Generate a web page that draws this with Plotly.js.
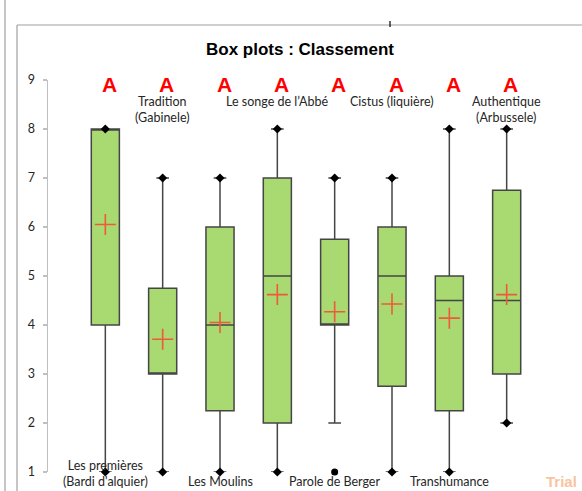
<!DOCTYPE html>
<html>
<head>
<meta charset="utf-8">
<script src="https://cdn.plot.ly/plotly-3.0.1.min.js"></script>
<style>html,body{margin:0;padding:0;background:#fff;}#chart{width:582px;height:491px;}</style>
</head>
<body>
<div id="chart"></div>
<script>
// ---- data ----
const categories = ["Les premières<br>(Bardi d'alquier)", "Tradition<br>(Gabinele)", "Les Moulins", "Le songe de l’Abbé", "Parole de Berger", "Cistus (liquière)", "Transhumance", "Authentique<br>(Arbussele)"];
const groups = ["A", "A", "A", "A", "A", "A", "A", "A"];
const minValues = [1, 1, 1, 1, 1, 1, 1, 2];
const lowerFence = [1, 1, 1, 1, 2, 1, 1, 2];
const q1Values = [4, 3, 2.25, 2, 4, 2.75, 2.25, 3];
const medianValues = [8, 3, 4, 5, 4, 5, 4.5, 4.5];
const q3Values = [8, 4.75, 6, 7, 5.75, 6, 5, 6.75];
const maxValues = [8, 7, 7, 8, 7, 7, 8, 8];
const meanValues = [6.05, 3.71, 4.05, 4.62, 4.27, 4.43, 4.14, 4.62];

const positions = categories.map((c, i) => i + 1);
const labelFont = "Lato, 'Open Sans', sans-serif";

const boxTrace = {
  type: 'box', orientation: 'v', x: positions,
  q1: q1Values, median: medianValues, q3: q3Values,
  lowerfence: lowerFence, upperfence: maxValues,
  width: 0.49, whiskerwidth: 0.45, boxpoints: false,
  fillcolor: '#a9d971', line: {color: '#454545', width: 1.5},
  hoverinfo: 'skip', showlegend: false
};

const extX = [], extY = [];
positions.forEach((p, i) => {
  extX.push(p); extY.push(maxValues[i]);
  if (minValues[i] === lowerFence[i]) { extX.push(p); extY.push(minValues[i]); }
});
const extremes = {
  type: 'scatter', mode: 'markers', x: extX, y: extY, cliponaxis: false,
  marker: {symbol: 'diamond', size: 7, color: '#000'}, hoverinfo: 'skip', showlegend: false
};

const outX = [], outY = [];
positions.forEach((p, i) => { if (minValues[i] < lowerFence[i]) { outX.push(p); outY.push(minValues[i]); } });
const outliers = {
  type: 'scatter', mode: 'markers', x: outX, y: outY, cliponaxis: false,
  marker: {symbol: 'circle', size: 7, color: '#000'}, hoverinfo: 'skip', showlegend: false
};

const means = {
  type: 'scatter', mode: 'markers', x: positions, y: meanValues, cliponaxis: false,
  marker: {symbol: 'cross-thin', size: 15, color: '#ee5a3a', line: {color: '#ee5a3a', width: 1.6}},
  hoverinfo: 'skip', showlegend: false
};

const annotations = [];
positions.forEach((p, i) => {
  annotations.push({
    x: p, y: 9, xref: 'x', yref: 'y', text: groups[i], showarrow: false,
    xshift: 4, yshift: -4, yanchor: 'middle',
    font: {family: "'Liberation Sans', Arial, sans-serif", size: 21, color: '#ff0000', weight: 'bold'}
  });
  const top = (i % 2 === 1);
  annotations.push({
    x: p, y: top ? 9 : 1, xref: 'x', yref: 'y', text: categories[i], showarrow: false,
    yanchor: top ? 'top' : 'bottom', yshift: top ? -12 : -19, align: 'center',
    font: {family: labelFont, size: 12.5, color: '#262626'}
  });
});
annotations.push({
  x: (561 - 48) / 516, y: (472 - 481) / 392, xref: 'paper', yref: 'paper', text: 'Trial', showarrow: false,
  xanchor: 'center', yanchor: 'middle',
  font: {family: "'Liberation Sans', Arial, sans-serif", size: 15, color: '#f8c4a0', weight: 'bold'}
});

const layout = {
  width: 582, height: 491,
  margin: {l: 48, r: 18, t: 80, b: 19},
  paper_bgcolor: '#fff', plot_bgcolor: 'rgba(0,0,0,0)',
  title: {text: 'Box plots : Classement', x: 300 / 582, xanchor: 'center', xref: 'container',
          y: 1 - 49 / 491, yanchor: 'middle', yref: 'container',
          font: {family: "'Liberation Sans', Arial, sans-serif", size: 17, color: '#000', weight: 'bold'}},
  xaxis: {range: [0, 9], visible: false, fixedrange: true},
  yaxis: {range: [1, 9], dtick: 1, tick0: 1, showgrid: false, zeroline: false,
          showline: true, linecolor: '#bfbfbf', linewidth: 1.5,
          ticks: 'outside', ticklen: 4, tickcolor: '#bfbfbf', tickwidth: 1.2,
          ticklabelstandoff: 5,
          tickfont: {family: labelFont, size: 12.5, color: '#262626'}, fixedrange: true},
  annotations: annotations,
  shapes: [
    {type: 'line', xref: 'paper', yref: 'paper', x0: (17 - 48) / 516, x1: (17 - 48) / 516, y0: (472 - 25) / 392, y1: (472 - 495) / 392, line: {color: '#a0a0a0', width: 1.2}},
    {type: 'line', xref: 'paper', yref: 'paper', x0: (17 - 48) / 516, x1: (584 - 48) / 516, y0: (472 - 25) / 392, y1: (472 - 25) / 392, line: {color: '#a0a0a0', width: 1.2}},
    {type: 'line', xref: 'paper', yref: 'paper', x0: (5 - 48) / 516, x1: (5 - 48) / 516, y0: (472 + 2) / 392, y1: (472 - 495) / 392, line: {color: '#a0a0a0', width: 1.2}},
    {type: 'line', xref: 'paper', yref: 'paper', x0: (390 - 48) / 516, x1: (390 - 48) / 516, y0: (472 - 21) / 392, y1: (472 - 27) / 392, line: {color: '#000', width: 1.2}}
  ]
};

Plotly.newPlot('chart', [boxTrace, extremes, outliers, means], layout, {staticPlot: true, displayModeBar: false});
</script>
</body>
</html>
